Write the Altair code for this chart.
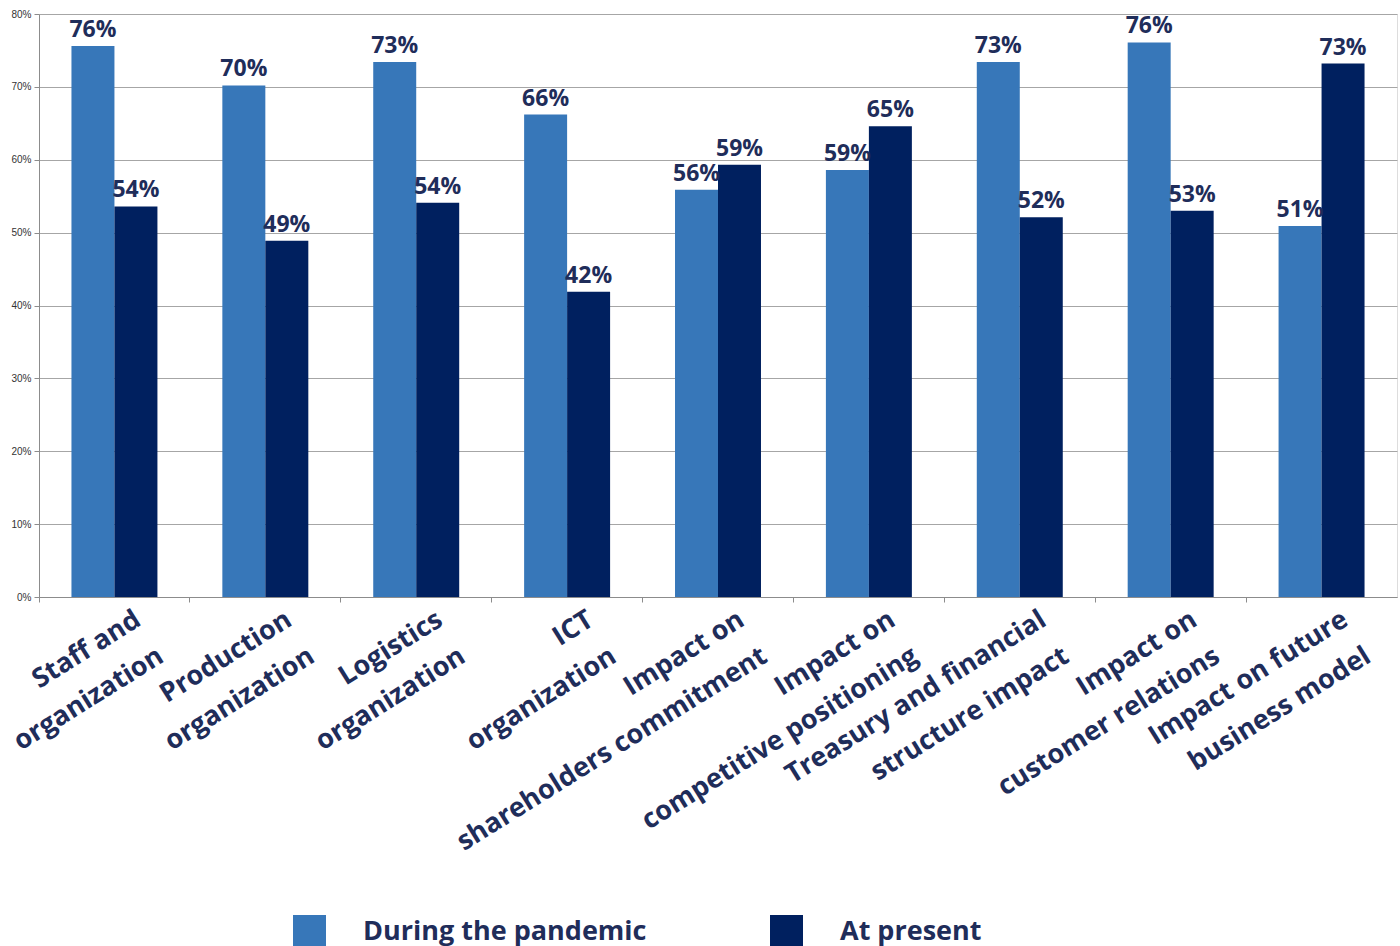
import altair as alt
import pandas as pd

# Share of companies reporting an impact, by area (percent)
categories = [
    "Staff and\norganization",
    "Production\norganization",
    "Logistics\norganization",
    "ICT\norganization",
    "Impact on\nshareholders commitment",
    "Impact on\ncompetitive positioning",
    "Treasury and financial\nstructure impact",
    "Impact on\ncustomer relations",
    "Impact on future\nbusiness model",
]
during = [75.6, 70.2, 73.4, 66.2, 55.9, 58.6, 73.4, 76.1, 50.9]
present = [53.6, 48.9, 54.1, 41.9, 59.3, 64.6, 52.1, 53.0, 73.2]
series = ["During the pandemic", "At present"]
colors = ["#3777b9", "#00205f"]
y_ticks = [0, 10, 20, 30, 40, 50, 60, 70, 80]

rows = []
for cat, d, p in zip(categories, during, present):
    rows.append({"category": cat, "series": series[0], "value": d})
    rows.append({"category": cat, "series": series[1], "value": p})
df = pd.DataFrame(rows)

navy = "#1f2d5a"
font = "Open Sans"

base = alt.Chart(df).transform_calculate(
    label="format(datum.value, '.0f') + '%'"
).encode(
    x=alt.X(
        "category:N",
        sort=categories,
        scale=alt.Scale(paddingInner=0, paddingOuter=0),
        axis=alt.Axis(
            title=None,
            bandPosition=0,
            labelOffset=17,
            labelAngle=-32,
            labelAlign="right",
            labelBaseline="top",
            labelExpr="split(datum.label, '\\n')",
            labelFont=font,
            labelFontWeight="bold",
            labelFontSize=27,
            labelLineHeight=43,
            labelColor=navy,
            labelPadding=4,
            labelLimit=0,
            labelOverlap=False,
            labelBound=False,
            domainColor="#8c8c8c",
            tickColor="#8c8c8c",
            tickSize=5,
            grid=False,
        ),
    ),
    xOffset=alt.XOffset(
        "series:N",
        sort=series,
        scale=alt.Scale(paddingInner=0, paddingOuter=0.755),
    ),
    y=alt.Y(
        "value:Q",
        scale=alt.Scale(domain=[0, 80], nice=False),
        axis=alt.Axis(
            title=None,
            values=y_ticks,
            labelExpr="datum.value + '%'",
            labelFont="Liberation Sans",
            labelFontSize=10,
            labelColor="#333333",
            labelPadding=3,
            domainColor="#8c8c8c",
            tickColor="#8c8c8c",
            tickSize=5,
            gridColor="#a6a6a6",
            gridWidth=1,
        ),
    ),
)

bars = base.mark_bar().encode(
    color=alt.Color(
        "series:N",
        sort=series,
        scale=alt.Scale(domain=series, range=colors),
        legend=alt.Legend(
            title=None,
            orient="none",
            legendX=254,
            legendY=901,
            direction="horizontal",
            symbolType="square",
            symbolSize=1089,
            symbolStrokeWidth=0,
            symbolOpacity=1,
            labelFont=font,
            labelFontWeight="bold",
            labelFontSize=27,
            labelColor=navy,
            labelOffset=37,
            columnPadding=123,
            padding=0,
            labelLimit=0,
        ),
    )
)

labels = base.mark_text(
    baseline="alphabetic",
    dy=-9,
    font=font,
    fontWeight="bold",
    fontSize=23,
    color=navy,
).encode(text="label:N")

chart = (
    alt.layer(bars, labels)
    .properties(
        width=1358,
        height=583,
        autosize=alt.AutoSizeParams(type="none"),
        padding={"left": 39, "top": 14, "right": 3, "bottom": 349},
    )
    .configure_view(stroke=None)
    .configure(background="white")
)

chart.save("out.html", embed_options={"renderer": "svg", "actions": False})
